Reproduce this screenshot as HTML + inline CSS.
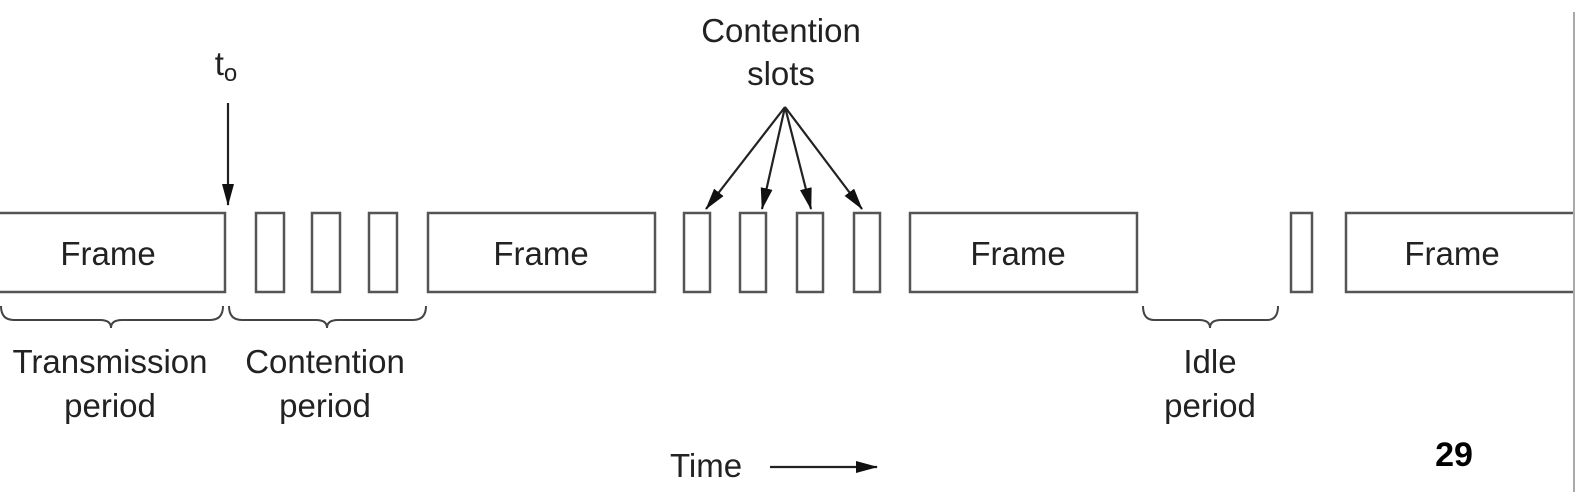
<!DOCTYPE html>
<html><head><style>body{margin:0;background:#fff}svg{display:block}</style></head><body>
<svg width="1578" height="492" viewBox="0 0 1578 492" xmlns="http://www.w3.org/2000/svg" font-family="Liberation Sans, sans-serif">
<defs>
<marker id="b" markerWidth="22" markerHeight="12" refX="21" refY="6" orient="auto" markerUnits="userSpaceOnUse"><path d="M0,0 L22,6 L0,12 z" fill="#111"/></marker></defs>
<g fill="none" stroke="#555" stroke-width="2.5">
<path d="M0,213 H225 V292 H0"/>
<rect x="256" y="213" width="28" height="79"/>
<rect x="312" y="213" width="28" height="79"/>
<rect x="369" y="213" width="28" height="79"/>
<rect x="428" y="213" width="227" height="79"/>
<rect x="684" y="213" width="26" height="79"/>
<rect x="740" y="213" width="26" height="79"/>
<rect x="797" y="213" width="26" height="79"/>
<rect x="854" y="213" width="26" height="79"/>
<rect x="910" y="213" width="227" height="79"/>
<rect x="1291" y="213" width="21" height="79"/>
<path d="M1574,213 H1346 V292 H1574"/>
</g>
<line x1="1574" y1="12" x2="1574" y2="492" stroke="#aaa" stroke-width="2"/>
<g fill="none" stroke="#444" stroke-width="2">
<path d="M1,306 Q1,320 14,320 H100 Q111,320 111,328 Q111,320 122,320 H210 Q223,320 223,306"/>
<path d="M229,306 Q229,320 242,320 H316 Q327,320 327,328 Q327,320 338,320 H413 Q426,320 426,306"/>
<path d="M1143,306 Q1143,320 1154,320 H1199 Q1210,320 1210,328 Q1210,320 1221,320 H1267 Q1278,320 1278,306"/>
</g>
<g stroke="#222" stroke-width="2.2">
<line x1="228" y1="103" x2="228" y2="205" marker-end="url(#b)"/>
<line x1="785" y1="107" x2="706" y2="209" marker-end="url(#b)"/>
<line x1="785" y1="107" x2="762" y2="209" marker-end="url(#b)"/>
<line x1="785" y1="107" x2="811" y2="209" marker-end="url(#b)"/>
<line x1="785" y1="107" x2="862" y2="209" marker-end="url(#b)"/>
<line x1="770" y1="467" x2="877" y2="467" marker-end="url(#b)"/>
</g>
<g fill="#222" font-size="33" text-anchor="middle" textLength="0">
<text x="108" y="265">Frame</text>
<text x="541" y="265">Frame</text>
<text x="1018" y="265">Frame</text>
<text x="1452" y="265">Frame</text>
<text x="110" y="373">Transmission</text>
<text x="110" y="417">period</text>
<text x="325" y="373">Contention</text>
<text x="325" y="417">period</text>
<text x="1210" y="373">Idle</text>
<text x="1210" y="417">period</text>
<text x="781" y="42">Contention</text>
<text x="781" y="85">slots</text>
<text x="706" y="477">Time</text>
<text x="226" y="75">t<tspan font-size="24" dy="6">o</tspan></text>
</g>
<text x="1454" y="466" text-anchor="middle" font-size="34" font-weight="bold" fill="#000">29</text>
</svg>
</body></html>
